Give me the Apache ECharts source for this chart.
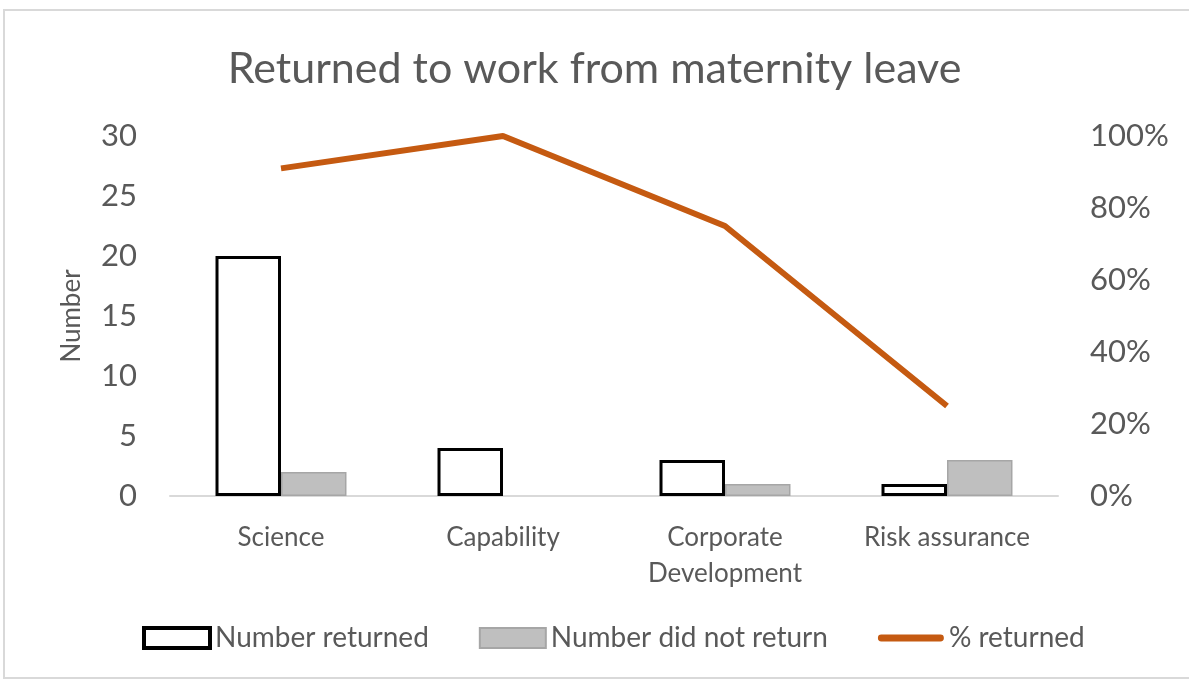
<!DOCTYPE html>
<html>
<head>
<meta charset="utf-8">
<script src="https://cdn.jsdelivr.net/npm/echarts@6/dist/echarts.min.js"></script>
<style>
  html, body { margin: 0; padding: 0; background: #fff; }
  #chart { width: 1189px; height: 682px; }
</style>
</head>
<body>
<div id="chart"></div>
<script>
var categories = ['Science', 'Capability', 'Corporate\nDevelopment', 'Risk assurance'];
var numberReturned = [20, 4, 3, 1];
var numberNotReturned = [2, 0, 1, 3];
var percentReturned = [0.91, 1.0, 0.75, 0.25];

var chartDom = document.getElementById('chart');
var myChart = echarts.init(chartDom);
var font = "Lato, 'Open Sans', sans-serif";
var grey = '#595959';
var option;

// zero-height bars should not leave a border line behind
var notReturnedData = numberNotReturned.map(function (v) {
  return v === 0 ? { value: v, itemStyle: { borderWidth: 0 } } : v;
});

option = {
  animation: false,
  graphic: [
    {
      type: 'rect',
      z: -10,
      shape: { x: 4, y: 10, width: 1200, height: 668 },
      style: { fill: 'none', stroke: '#D9D9D9', lineWidth: 2 },
    },
  ],
  title: {
    text: 'Returned to work from maternity leave',
    left: 'center',
    top: 43,
    textStyle: {
      fontFamily: font,
      fontWeight: 'normal',
      fontSize: 43,
      color: grey,
    },
  },
  grid: {
    left: 170,
    right: 131,
    top: 136,
    bottom: 186,
  },
  legend: {
    bottom: 25,
    left: 137,
    itemWidth: 66,
    itemHeight: 20,
    itemGap: 50,
    textStyle: {
      fontFamily: font,
      fontSize: 28,
      color: grey,
    },
    data: [
      { name: 'Number returned', icon: 'rect', itemStyle: { color: '#FFFFFF', borderColor: '#000000', borderWidth: 4 } },
      { name: 'Number did not return', icon: 'rect', itemStyle: { color: '#BFBFBF', borderColor: '#A6A6A6', borderWidth: 2 } },
      { name: '% returned', icon: 'path://M3,0 L63,0 A3.5,3.5 0 0 1 63,7 L3,7 A3.5,3.5 0 0 1 3,0 Z' },
    ],
  },
  xAxis: {
    type: 'category',
    data: categories,
    axisTick: { show: false },
    axisLine: { lineStyle: { color: '#D9D9D9', width: 2 } },
    axisLabel: {
      fontFamily: font,
      fontSize: 26,
      color: grey,
      margin: 24,
      lineHeight: 36,
    },
  },
  yAxis: [
    {
      type: 'value',
      min: 0,
      max: 30,
      interval: 5,
      name: 'Number',
      nameLocation: 'middle',
      nameGap: 85,
      nameTextStyle: { fontFamily: font, fontSize: 26, color: grey },
      splitLine: { show: false },
      axisLine: { show: false },
      axisTick: { show: false },
      axisLabel: { fontFamily: font, fontSize: 31, color: grey, margin: 33 },
    },
    {
      type: 'value',
      min: 0,
      max: 1,
      interval: 0.2,
      splitLine: { show: false },
      axisLine: { show: false },
      axisTick: { show: false },
      axisLabel: {
        fontFamily: font,
        fontSize: 31,
        color: grey,
        margin: 32,
        formatter: function (v) { return Math.round(v * 100) + '%'; },
      },
    },
  ],
  series: [
    {
      name: 'Number returned',
      type: 'bar',
      barGap: 0,
      barCategoryGap: '41%',
      data: numberReturned,
      itemStyle: { color: '#FFFFFF', borderColor: '#000000', borderWidth: 3 },
    },
    {
      name: 'Number did not return',
      type: 'bar',
      data: notReturnedData,
      itemStyle: { color: '#BFBFBF', borderColor: '#A6A6A6', borderWidth: 1.5 },
    },
    {
      name: '% returned',
      type: 'line',
      yAxisIndex: 1,
      symbol: 'none',
      data: percentReturned,
      lineStyle: { color: '#C55A11', width: 6 },
      itemStyle: { color: '#C55A11' },
    },
  ],
};

option && myChart.setOption(option);
</script>
</body>
</html>
